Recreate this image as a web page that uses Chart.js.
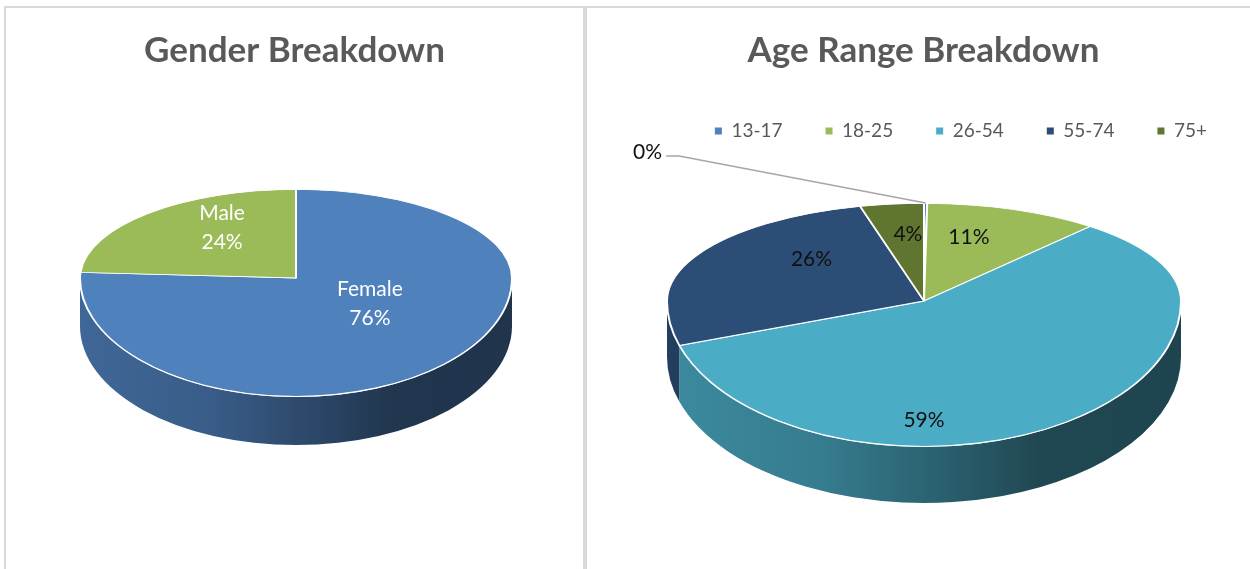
<!DOCTYPE html>
<html><head><meta charset="utf-8">
<script src="https://cdn.jsdelivr.net/npm/chart.js@4.4.0/dist/chart.umd.min.js"></script>
<style>
html,body{margin:0;padding:0;background:#fff;width:1250px;height:569px;overflow:hidden;}
.line{position:absolute;background:#d9d9d9;}
canvas{position:absolute;}
</style></head><body>
<div class="line" style="left:4px;top:6px;width:1246px;height:2px"></div>
<div class="line" style="left:4px;top:6px;width:2px;height:563px"></div>
<div class="line" style="left:583px;top:6px;width:4px;height:563px"></div>
<canvas id="c1" width="577" height="561" style="left:6px;top:8px"></canvas>
<canvas id="c2" width="663" height="561" style="left:587px;top:8px"></canvas>
<script>
// ---- data ----
const genderTitle = 'Gender Breakdown';
const genderLabels = ['Female', 'Male'];
const genderValues = [76, 24];
const genderColors = ['#4f81bd', '#9bbb59'];

const ageTitle = 'Age Range Breakdown';
const ageLabels = ['13-17', '18-25', '26-54', '55-74', '75+'];
const ageValues = [0.2, 11, 59, 26, 4];
const ageColors = ['#4f81bd', '#9bbb59', '#4bacc6', '#2c4d75', '#5f7530'];

// ---- helpers ----
function shade(hex, f) {
  const n = parseInt(hex.slice(1), 16);
  return 'rgb(' + Math.round((n >> 16 & 255) * f) + ',' + Math.round((n >> 8 & 255) * f) + ',' + Math.round((n & 255) * f) + ')';
}

// 3D-looking pie: elliptical top face (two half-ellipses around the apex), extruded side wall, data labels
const pie3d = {
  id: 'pie3d',
  afterLayout(chart, args, o) {
    const a = chart.chartArea;
    a.left = o.cx - o.r; a.right = o.cx + o.r;
    a.top = o.cy - o.r; a.bottom = o.cy + o.r;
    a.width = 2 * o.r; a.height = 2 * o.r;
  },
  beforeDatasetsDraw(chart, args, o) {
    const ctx = chart.ctx, meta = chart.getDatasetMeta(0);
    meta.data.forEach(arc => {
      const p = arc.getProps(['startAngle', 'endAngle', 'x', 'y', 'outerRadius'], true);
      const a1 = Math.max(p.startAngle, 0), a2 = Math.min(p.endAngle, Math.PI);
      if (a2 <= a1) return;
      const base = arc.options.backgroundColor;
      const g = ctx.createLinearGradient(p.x - p.outerRadius, 0, p.x + p.outerRadius, 0);
      o.wallShades.forEach(st => g.addColorStop(st[0], shade(base, st[1])));
      ctx.save();
      ctx.fillStyle = g;
      ctx.beginPath();
      ctx.ellipse(p.x, p.y, p.outerRadius, o.ryBottom, 0, a1, a2);
      ctx.ellipse(p.x, p.y + o.depth, p.outerRadius, o.ryBottom, 0, a2, a1, true);
      ctx.closePath();
      ctx.fill();
      ctx.restore();
    });
    // back half of the top face (drawn by the library through this transform)
    ctx.save();
    ctx.beginPath(); ctx.rect(0, 0, chart.width, o.cy); ctx.clip();
    ctx.translate(0, o.cy); ctx.scale(1, o.ryTop / o.r); ctx.translate(0, -o.cy);
  },
  afterDatasetsDraw(chart, args, o) {
    const ctx = chart.ctx, meta = chart.getDatasetMeta(0);
    ctx.restore();
    // front half of the top face
    ctx.save();
    ctx.beginPath(); ctx.rect(0, o.cy, chart.width, chart.height - o.cy); ctx.clip();
    ctx.translate(0, o.cy); ctx.scale(1, o.ryBottom / o.r); ctx.translate(0, -o.cy);
    meta.controller.draw();
    ctx.restore();

    // labels
    const data = chart.data.datasets[0].data;
    const total = data.reduce((a, b) => a + b, 0);
    ctx.save();
    ctx.textAlign = 'center'; ctx.textBaseline = 'middle';
    ctx.font = o.labelFont;
    ctx.fillStyle = o.labelColor;
    meta.data.forEach((arc, i) => {
      const p = arc.getProps(['startAngle', 'endAngle', 'x', 'y', 'outerRadius'], true);
      const pct = data[i] / total * 100;
      const txt = Math.round(pct) + '%';
      const lines = o.showCategory ? [chart.data.labels[i], txt] : [txt];
      const mid = (p.startAngle + p.endAngle) / 2;
      const c = Math.cos(mid), s = Math.sin(mid);
      const ry = s < 0 ? o.ryTop : o.ryBottom;
      if (pct < 1 && o.callout) {
        const rx0 = p.x + c * p.outerRadius, ry0 = p.y + s * ry;
        const lx = rx0 + o.callout.dx, ly = ry0 + o.callout.dy;
        const w = ctx.measureText(txt).width;
        ctx.save();
        ctx.strokeStyle = '#a6a6a6'; ctx.lineWidth = 1.5;
        ctx.beginPath();
        ctx.moveTo(rx0, ry0);
        ctx.lineTo(lx + w / 2 + 17, ly + 4);
        ctx.lineTo(lx + w / 2 + 4, ly + 4);
        ctx.stroke();
        ctx.restore();
        ctx.fillText(txt, lx, ly);
        return;
      }
      let lx, ly;
      if (o.frontFraction && pct > 50) {
        lx = p.x; ly = p.y + o.ryBottom * o.frontFraction;
      } else {
        lx = p.x + c * p.outerRadius * o.labelFraction;
        ly = p.y + s * ry * o.labelFraction - o.labelLift;
      }
      lines.forEach((t, k) => ctx.fillText(t, lx, ly + (k - (lines.length - 1) / 2) * o.lineHeight));
    });
    ctx.restore();
  }
};

const wallShades = [[0, 0.8], [0.3, 0.72], [0.5, 0.58], [0.72, 0.42], [1, 0.4]];
const titleFont = { family: 'Lato', size: 35, weight: 'bold' };

new Chart(document.getElementById('c1'), {
  type: 'pie',
  data: {
    labels: genderLabels,
    datasets: [{ data: genderValues, backgroundColor: genderColors, borderColor: '#ffffff', borderWidth: 2, clip: false }]
  },
  options: {
    responsive: false, animation: false, events: [],
    plugins: {
      title: { display: true, text: genderTitle, color: '#595959', font: titleFont, padding: { top: 21.5, bottom: 7 } },
      legend: { display: false },
      tooltip: { enabled: false },
      pie3d: {
        cx: 290, cy: 270, r: 217, ryTop: 89, ryBottom: 119, depth: 48, wallShades,
        labelFont: '21px Lato', labelColor: '#ffffff', showCategory: true,
        labelFraction: 0.5, labelLift: 18, lineHeight: 29
      }
    }
  },
  plugins: [pie3d]
});

new Chart(document.getElementById('c2'), {
  type: 'pie',
  data: {
    labels: ageLabels,
    datasets: [{ data: ageValues, backgroundColor: ageColors, borderColor: '#ffffff', borderWidth: 2, clip: false }]
  },
  options: {
    responsive: false, animation: false, events: [],
    layout: { padding: { left: 10 } },
    plugins: {
      title: { display: true, text: ageTitle, color: '#595959', font: titleFont, padding: { top: 21.5, bottom: 7 } },
      legend: {
        display: true, position: 'top', align: 'end',
        labels: {
          boxWidth: 7, boxHeight: 7, padding: 43, color: '#595959', font: { family: 'Lato', size: 19 },
          generateLabels(chart) {
            const items = Chart.overrides.doughnut.plugins.legend.labels.generateLabels(chart);
            items.forEach(it => { it.lineWidth = 0; it.strokeStyle = 'rgba(0,0,0,0)'; });
            return items;
          }
        }
      },
      tooltip: { enabled: false },
      pie3d: {
        cx: 337, cy: 293, r: 258, ryTop: 98, ryBottom: 146, depth: 56, wallShades,
        labelFont: '21px Lato', labelColor: '#111111', showCategory: false,
        labelFraction: 0.5, labelLift: 18, lineHeight: 29, frontFraction: 0.815,
        callout: { dx: -278, dy: -51 }
      }
    }
  },
  plugins: [pie3d]
});
</script>
</body></html>
